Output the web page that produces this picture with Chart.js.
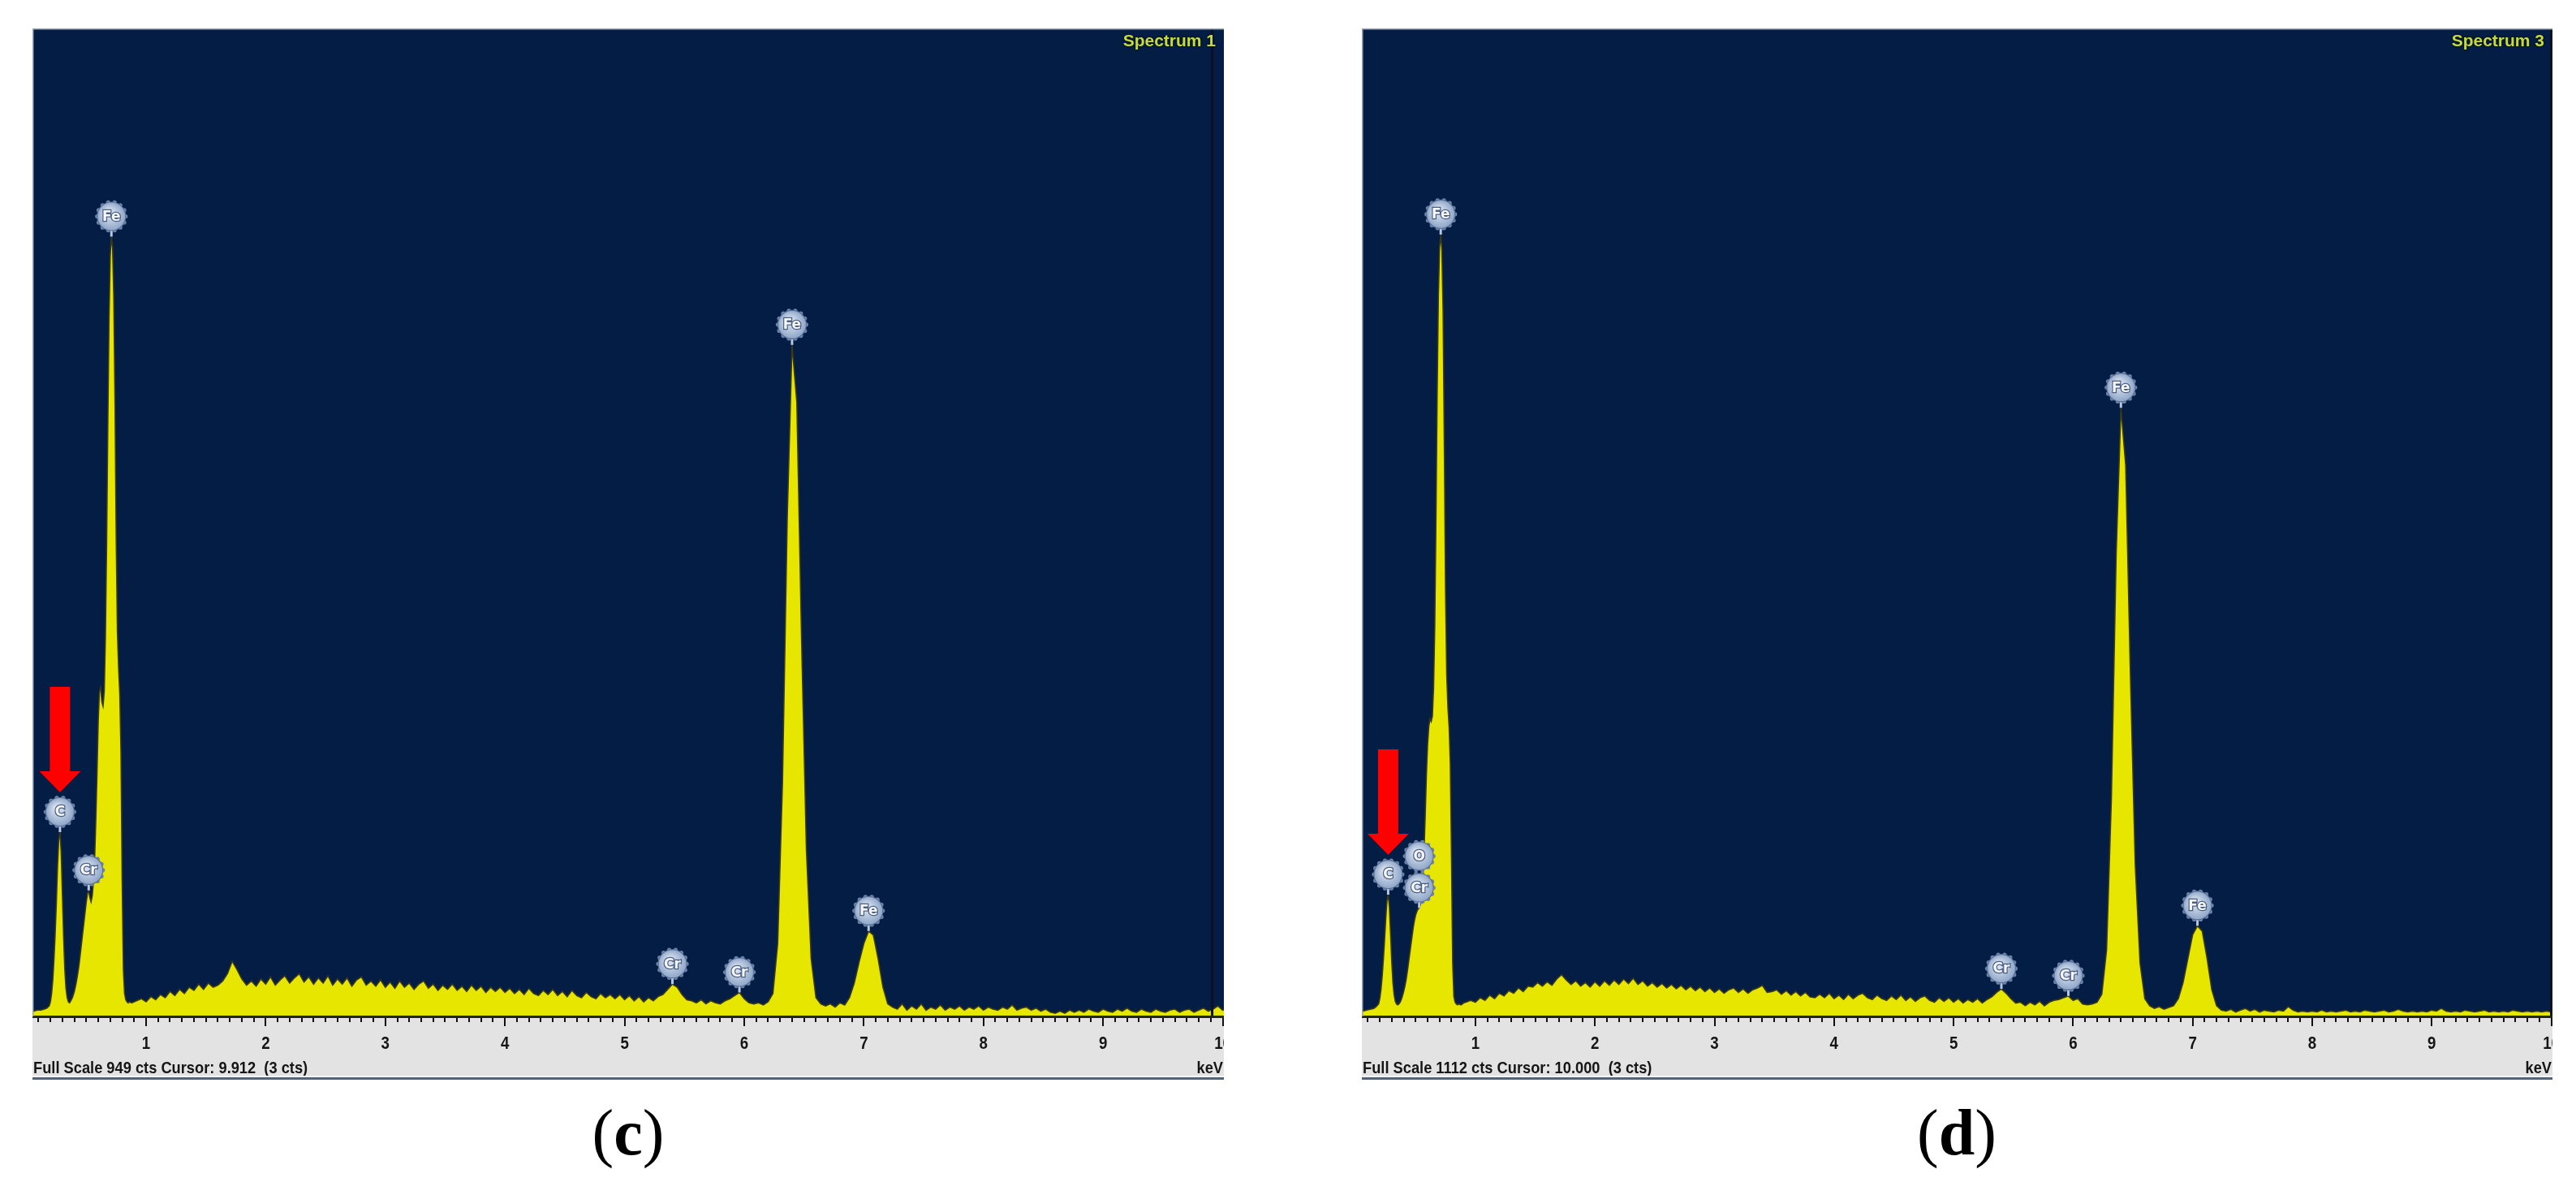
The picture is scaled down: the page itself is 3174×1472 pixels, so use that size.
<!DOCTYPE html>
<html><head><meta charset="utf-8">
<script src="https://cdn.jsdelivr.net/npm/chart.js@4.4.1/dist/chart.umd.min.js"></script>
<style>
html,body{margin:0;padding:0;background:#fff;}
body{width:3174px;height:1472px;position:relative;overflow:hidden;}
.panel{position:absolute;top:35px;height:1295px;}
#pc{left:40px;width:1468px;}
#pd{left:1678px;width:1467px;}
.cap{position:absolute;top:1355px;font-family:"Liberation Serif","Times New Roman",serif;font-size:80px;line-height:80px;color:#000;transform:translateX(-50%);white-space:nowrap;}
.cap b{font-weight:bold;}
</style></head><body>
<div class="panel" id="pc"><canvas id="cc" width="1468" height="1295"></canvas></div>
<div class="panel" id="pd"><canvas id="cd" width="1467" height="1295"></canvas></div>
<div class="cap" style="left:774px">(<b>c</b>)</div>
<div class="cap" style="left:2411px">(<b>d</b>)</div>
<script>
// ---- energy channels (keV) ----
const ENERGY_KEV = [
0.03,0.06,0.09,0.12,0.15,0.17,
0.19,0.20,0.21,0.22,0.23,0.24,0.25,0.26,0.27,0.28,0.29,0.30,
0.31,0.32,0.33,0.34,0.35,0.36,0.37,0.38,0.39,0.40,
0.41,0.42,0.43,0.44,0.45,0.46,0.47,0.48,0.49,0.50,
0.51,0.52,0.53,0.54,0.55,0.56,0.57,0.58,0.59,0.60,
0.61,0.62,0.63,0.64,0.65,0.66,0.67,0.68,0.69,0.70,
0.71,0.72,0.73,0.74,0.75,0.76,0.77,0.78,0.79,0.80,
0.81,0.82,0.83,0.84,0.85,0.86,0.88,0.90,
0.92,0.96,1.00,1.04,1.08,1.12,1.16,1.20,1.24,1.28,1.32,1.36,1.40,1.44,1.48,1.52,1.56,1.60,1.64,1.68,1.72,1.76,1.80,1.84,1.88,
1.92,1.96,2.00,2.04,2.08,2.12,2.16,2.20,2.24,2.28,2.32,2.36,2.40,2.44,2.48,2.52,2.56,2.60,2.64,2.68,2.72,2.76,2.80,2.84,2.88,
2.92,2.96,3.00,3.04,3.08,3.12,3.16,3.20,3.24,3.28,3.32,3.36,3.40,3.44,3.48,3.52,3.56,3.60,3.64,3.68,3.72,3.76,3.80,3.84,3.88,
3.92,3.96,4.00,4.04,4.08,4.12,4.16,4.20,4.24,4.28,4.32,4.36,4.40,4.44,4.48,4.52,4.56,4.60,4.64,4.68,4.72,4.76,4.80,4.84,4.88,
4.92,4.96,5.00,5.04,5.08,5.12,5.16,5.20,5.24,5.28,5.32,5.36,5.40,5.44,5.48,5.52,5.56,5.60,5.64,5.68,5.72,5.76,5.80,5.84,5.88,
5.92,5.96,6.00,6.04,6.08,6.12,6.16,6.20,6.24,6.28,6.32,6.36,6.40,6.44,6.48,6.52,6.56,6.60,6.64,6.68,6.72,6.76,6.80,6.84,6.88,
6.92,6.96,7.00,7.04,7.08,7.12,7.16,7.20,7.24,7.28,7.32,7.36,7.40,7.44,7.48,7.52,7.56,7.60,7.64,7.68,7.72,7.76,7.80,7.84,7.88,
7.92,7.96,8.00,8.04,8.08,8.12,8.16,8.20,8.24,8.28,8.32,8.36,8.40,8.44,8.48,8.52,8.56,8.60,8.64,8.68,8.72,8.76,8.80,8.84,8.88,
8.92,8.96,9.00,9.04,9.08,9.12,9.16,9.20,9.24,9.28,9.32,9.36,9.40,9.44,9.48,9.52,9.56,9.60,9.64,9.68,9.72,9.76,9.80,9.84,9.88,
9.92,9.96,10.00,10.04,10.08
];

// ---- counts, spectrum 1 (panel c) ----
const COUNTS_C = [
4,5,6,6,7,8,
10,14,22,35,55,80,110,145,170,177,158,118,
78,46,27,18,14,13,15,17,20,24,
29,35,42,50,60,70,80,90,100,110,
118,121,114,110,116,130,152,190,235,285,
312,316,302,298,312,365,455,570,670,730,
749,738,690,590,460,370,335,310,255,130,
45,22,16,14,13,14,13,14,
15,17,14,19,16,21,18,24,20,26,22,28,25,31,26,32,28,30,34,41,53,45,36,30,34,
29,36,31,38,30,35,39,32,37,41,33,38,31,37,32,39,30,36,31,37,29,35,38,30,34,
29,35,28,33,27,34,28,32,26,31,34,27,31,25,30,26,31,25,29,24,30,25,29,23,28,
24,28,23,27,22,26,21,27,22,20,25,21,26,20,24,19,25,20,18,23,19,17,22,18,21,
17,21,16,20,15,19,14,18,15,19,21,26,31,28,21,16,15,13,16,12,15,13,12,15,17,
20,23,17,13,12,13,11,14,22,70,225,480,645,590,360,160,55,18,12,10,12,9,13,11,18,
32,52,70,82,78,55,28,12,9,7,12,6,10,7,12,6,9,7,11,6,9,7,10,6,9,
7,10,6,9,7,6,9,7,11,6,8,9,6,8,5,7,4,3,5,3,6,4,6,4,7,
5,4,7,5,4,7,5,8,5,4,7,5,4,7,5,4,6,7,4,6,7,4,6,8,5,
7,10,6,7,6
];

// ---- counts, spectrum 3 (panel d) ----
const COUNTS_D = [
5,6,7,8,9,11,
14,20,30,45,64,86,110,130,137,124,94,62,
38,24,17,14,13,14,16,19,23,28,
34,41,50,60,70,80,90,100,108,114,
118,121,122,126,136,156,186,226,272,306,
326,335,332,338,370,440,560,700,810,865,
880,862,790,640,480,385,348,326,285,180,
60,22,16,14,13,14,13,15,
16,18,16,21,18,24,20,26,23,29,26,32,28,34,33,38,34,39,35,42,47,41,36,40,34,
38,33,39,34,40,35,41,36,42,37,43,36,40,34,38,33,37,32,36,31,35,30,34,29,33,
28,32,27,31,26,30,32,27,31,26,30,32,35,27,28,30,25,29,24,28,23,27,22,21,25,
21,26,20,24,19,25,20,24,26,21,19,24,20,18,23,19,24,18,22,17,21,23,18,16,21,
17,21,16,20,15,19,16,20,15,19,22,27,31,26,20,15,16,12,16,13,17,12,16,18,19,
21,23,18,20,14,13,14,16,25,75,245,520,685,620,380,170,60,20,12,9,11,8,10,12,20,
38,65,92,102,96,66,30,12,7,6,8,5,7,9,6,8,5,7,6,5,7,6,11,7,5,
6,5,6,5,7,5,6,5,6,7,5,6,5,7,6,5,6,7,5,6,8,6,5,6,5,
6,5,7,6,9,6,5,6,5,7,6,5,6,7,5,6,5,6,5,7,6,5,6,5,6,
5,6,5,6,5
];

// ---- axis / annotation values ----
const X_MIN = 0.05, X_MAX = 10.01;
const TICK_LABELS = ['1','2','3','4','5','6','7','8','9','10'];
const TICK_VALUES = [1,2,3,4,5,6,7,8,9,10];
const FULL_SCALE_C = 949, FULL_SCALE_D = 1112;
const CURSOR_C = 9.912, CURSOR_D = 10.000;
const MARKER_SYMS_C = ['C','Cr','Fe','Cr','Cr','Fe','Fe'];
const MARKER_KEV_C  = [0.28,0.52,0.71,5.40,5.96,6.40,7.04];
const MARKER_CTS_C  = [177,121,749,31,23,645,82];
const MARKER_STACK_C= [0,0,0,0,0,0,0];
const MARKER_SYMS_D = ['C','Cr','O','Fe','Cr','Cr','Fe','Fe'];
const MARKER_KEV_D  = [0.27,0.53,0.53,0.71,5.40,5.96,6.40,7.04];
const MARKER_CTS_D  = [137,122,122,880,31,23,685,102];
const MARKER_STACK_D= [0,0,1,0,0,0,0,0];
const ARROW_MARKER_INDEX = 0; // red arrow points at the C label

const NAVY = '#031d45', YELLOW = '#e6e600';

function drawMarker(ctx, x, cy, r, sym) {
  ctx.save();
  ctx.fillStyle = '#6d84a8';
  const n = 14;
  for (let k = 0; k < n; k++) {
    const ang = k * 2 * Math.PI / n;
    ctx.beginPath();
    ctx.arc(x + Math.cos(ang) * r, cy + Math.sin(ang) * r, 2.6, 0, 2 * Math.PI);
    ctx.fill();
  }
  const g = ctx.createRadialGradient(x - 4, cy - 5, 2, x, cy, r);
  g.addColorStop(0, '#dde6f2'); g.addColorStop(1, '#8fa6c8');
  ctx.beginPath(); ctx.arc(x, cy, r, 0, 2 * Math.PI);
  ctx.fillStyle = g; ctx.fill();
  ctx.lineWidth = 1.2; ctx.strokeStyle = '#5a7096'; ctx.stroke();
  ctx.font = 'bold 17px "DejaVu Sans", sans-serif';
  ctx.textAlign = 'center'; ctx.textBaseline = 'middle';
  ctx.lineWidth = 2.5; ctx.strokeStyle = '#4b5f84';
  ctx.strokeText(sym, x, cy + 1);
  ctx.fillStyle = '#f5f7fb';
  ctx.fillText(sym, x, cy + 1);
  ctx.restore();
}

function narrowText(ctx, txt, x, y, align, sx) {
  ctx.save();
  ctx.translate(x, y);
  ctx.scale(sx, 1);
  ctx.textAlign = align;
  ctx.fillText(txt, 0, 0);
  ctx.restore();
}

const panelPlugin = {
  id: 'edsPanel',
  beforeDraw(chart, args, o) {
    const {ctx, chartArea: a, width, height} = chart;
    ctx.save();
    ctx.fillStyle = '#e3e3e3'; ctx.fillRect(0, 0, width, height);
    ctx.fillStyle = NAVY; ctx.fillRect(a.left, a.top, a.right - a.left, a.bottom - a.top);
    ctx.restore();
  },
  afterDatasetsDraw(chart, args, o) {
    const {ctx, chartArea: a, width, height} = chart;
    const xs = chart.scales.x, ys = chart.scales.y;
    ctx.save();
    const cx = xs.getPixelForValue(o.cursor);
    ctx.fillStyle = '#0a1120';
    ctx.fillRect(cx - 1.5, a.top, 3, a.bottom - a.top);
    ctx.fillStyle = '#23231a';
    ctx.fillRect(a.left, a.bottom - 1, a.right - a.left, 3);
    ctx.fillStyle = '#111';
    for (let i = 1; i <= 100; i++) {
      const v = i / 10;
      if (v < X_MIN || v > X_MAX) continue;
      const px = Math.round(xs.getPixelForValue(v));
      const major = (i % 10 === 0);
      ctx.fillRect(px - 1, a.bottom + 2, 2, major ? 10 : 5);
    }
    ctx.font = 'bold 22px "Liberation Sans", Arial, sans-serif';
    ctx.fillStyle = '#151515';
    ctx.textBaseline = 'alphabetic';
    TICK_VALUES.forEach((v, i) => {
      narrowText(ctx, TICK_LABELS[i], xs.getPixelForValue(v), a.bottom + 40, 'center', 0.85);
    });
    ctx.font = 'bold 21px "Liberation Sans", Arial, sans-serif';
    narrowText(ctx, o.status, 1, a.bottom + 70, 'left', 0.87);
    narrowText(ctx, 'keV', width - 1, a.bottom + 70, 'right', 0.87);
    ctx.fillStyle = '#f6f6f6'; ctx.fillRect(0, height - 5, width, 2);
    ctx.fillStyle = '#55637a'; ctx.fillRect(0, height - 3, width, 3);
    ctx.fillStyle = '#9aa6b8'; ctx.fillRect(0, 0, width, 1.5); ctx.fillRect(0, 0, 1.5, a.bottom);
    ctx.font = 'bold 21px "Liberation Sans", Arial, sans-serif';
    ctx.textAlign = 'right'; ctx.textBaseline = 'alphabetic';
    ctx.shadowColor = 'rgba(0,0,0,0.9)'; ctx.shadowBlur = 3;
    ctx.fillStyle = '#c8db3a';
    ctx.fillText(o.name, a.right - 10, a.top + 22);
    ctx.shadowBlur = 0;
    const r = 17.5;
    const centers = [];
    o.syms.forEach((s, i) => {
      const px = xs.getPixelForValue(o.kev[i]);
      const py = ys.getPixelForValue(o.cts[i]);
      const cy = py - 25 - o.stack[i] * 39;
      centers.push([px, cy]);
      if (o.stack[i] === 0) {
        ctx.strokeStyle = '#b7c7df'; ctx.lineWidth = 3;
        ctx.beginPath(); ctx.moveTo(px, cy + r); ctx.lineTo(px, py); ctx.stroke();
      }
    });
    o.syms.forEach((s, i) => drawMarker(ctx, centers[i][0], centers[i][1], r, s));
    const [ax, acy] = centers[o.arrowIndex];
    const tip = acy - 24;
    ctx.fillStyle = '#ff0000';
    ctx.beginPath();
    ctx.moveTo(ax - 12.5, tip - 130);
    ctx.lineTo(ax + 12.5, tip - 130);
    ctx.lineTo(ax + 12.5, tip - 26);
    ctx.lineTo(ax + 25.5, tip - 26);
    ctx.lineTo(ax, tip);
    ctx.lineTo(ax - 25.5, tip - 26);
    ctx.lineTo(ax - 12.5, tip - 26);
    ctx.closePath(); ctx.fill();
    ctx.restore();
  }
};

function makeChart(id, counts, cfg) {
  const pts = ENERGY_KEV.map((e, i) => ({x: e, y: counts[i]}));
  return new Chart(document.getElementById(id), {
    type: 'line',
    data: {datasets: [{data: pts, fill: 'origin', backgroundColor: YELLOW,
      borderColor: '#3a3a14', borderWidth: 1.6, pointRadius: 0, tension: 0}]},
    options: {
      responsive: false, animation: false, devicePixelRatio: 1,
      layout: {padding: {left: 0, right: 0, top: 0, bottom: 78}},
      plugins: {legend: {display: false}, tooltip: {enabled: false}, edsPanel: cfg},
      scales: {
        x: {type: 'linear', min: X_MIN, max: X_MAX, display: false},
        y: {min: 0, max: cfg.fullScale, display: false}
      }
    },
    plugins: [panelPlugin]
  });
}

makeChart('cc', COUNTS_C, {
  fullScale: FULL_SCALE_C, cursor: CURSOR_C, name: 'Spectrum 1',
  status: 'Full Scale ' + FULL_SCALE_C + ' cts Cursor: 9.912  (3 cts)',
  syms: MARKER_SYMS_C, kev: MARKER_KEV_C, cts: MARKER_CTS_C, stack: MARKER_STACK_C,
  arrowIndex: ARROW_MARKER_INDEX
});
makeChart('cd', COUNTS_D, {
  fullScale: FULL_SCALE_D, cursor: CURSOR_D, name: 'Spectrum 3',
  status: 'Full Scale ' + FULL_SCALE_D + ' cts Cursor: 10.000  (3 cts)',
  syms: MARKER_SYMS_D, kev: MARKER_KEV_D, cts: MARKER_CTS_D, stack: MARKER_STACK_D,
  arrowIndex: ARROW_MARKER_INDEX
});
</script>
</body></html>
